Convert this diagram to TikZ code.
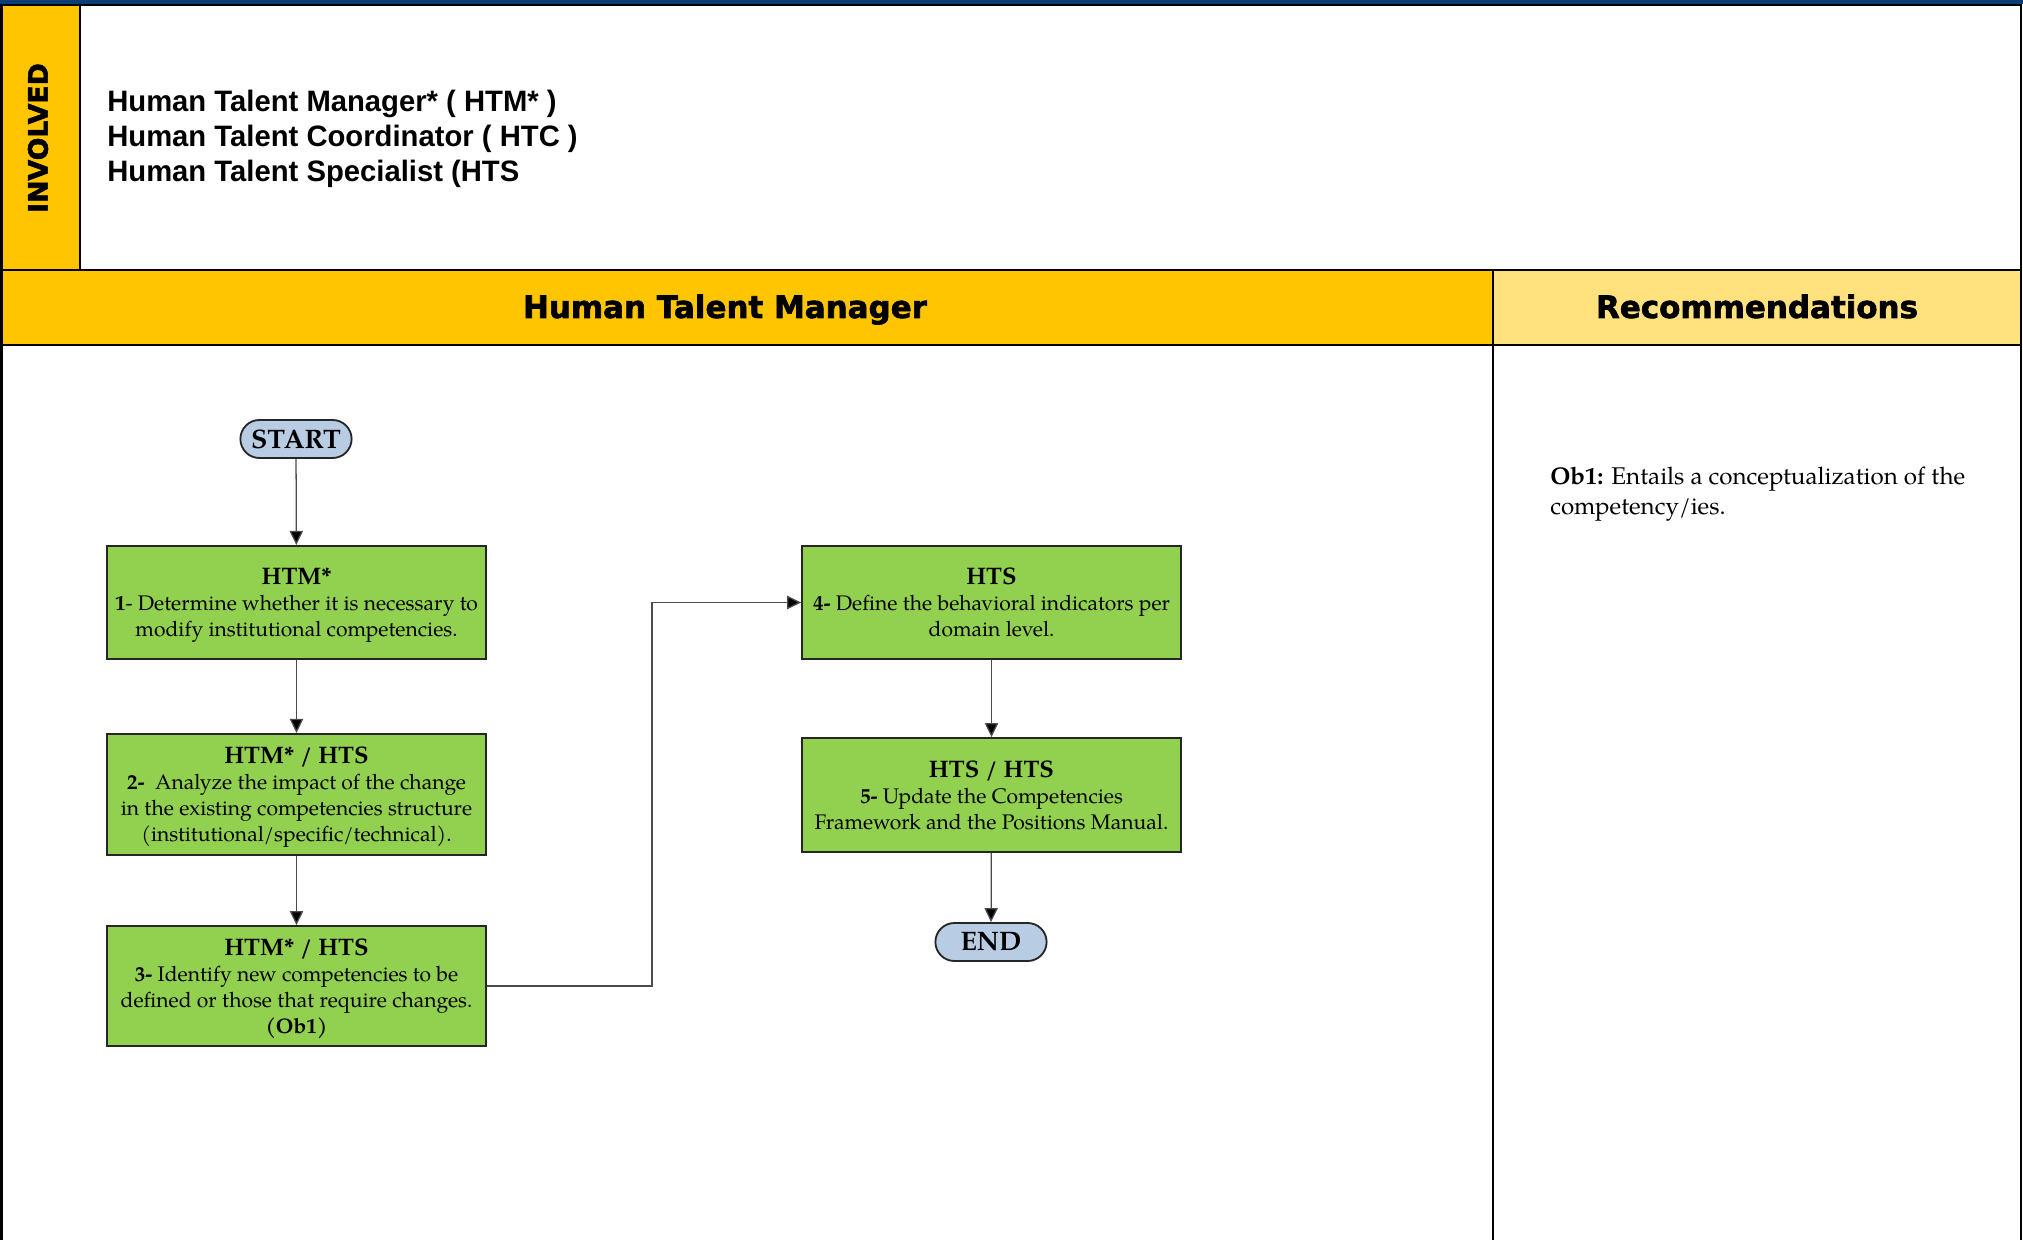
\documentclass[tikz,border=0pt]{standalone}
\usepackage{fontspec}
\usepackage{xcolor}
\usepackage{tikz}
\usetikzlibrary{arrows.meta,shapes.misc,positioning}
\setmainfont{TeX Gyre Pagella}
\newfontfamily\narrowfont{Liberation Sans Bold}[FakeStretch=0.99]
\newfontfamily\blackfont{DejaVu Sans Bold}[FakeBold=2]
\definecolor{barblue}{HTML}{0B3F73}
\definecolor{gold}{HTML}{FFC600}
\definecolor{paleGold}{HTML}{FFE17D}
\definecolor{stepgreen}{HTML}{92D050}
\definecolor{termblue}{HTML}{B8CCE4}
\tikzset{
  task/.style={draw=black!85, line width=1.3pt, fill=stepgreen, minimum width=9.47cm, align=center, inner sep=2pt, text depth=0pt, font=\fontsize{15}{18.5}\selectfont},
  term/.style={rounded rectangle, draw=black!85, line width=1.3pt, fill=termblue, minimum width=2.85cm, minimum height=0.95cm, inner sep=1pt, font=\fontsize{19}{20}\selectfont\bfseries},
  flow/.style={draw=black!70, line width=0.9pt, -{Triangle[length=10pt,width=9.5pt,fill=black]}},
  rule/.style={line width=1.6pt},
  lanehead/.style={anchor=base, font=\blackfont\fontsize{22}{23}\selectfont}
}
\newcommand\head[1]{{\fontsize{17}{19}\selectfont\bfseries #1}}

\begin{document}
\begin{tikzpicture}[x=0.025cm,y=-0.025cm]
\useasboundingbox (0,0) rectangle (2023,1240);
\fill[white] (0,0) rectangle (2023,1240);
\fill[barblue] (0,0) rectangle (2023,4);
\fill[gold] (1,5) rectangle (80,270);
\fill[gold] (1,270) rectangle (1493,345);
\fill[paleGold] (1493,270) rectangle (2021,345);
\draw[rule] (1.5,1240) -- (1.5,5) -- (2021,5) -- (2021,1240);
\draw[rule] (80,5) -- (80,270);
\draw[rule] (1.5,270) -- (2021,270);
\draw[rule] (1.5,345) -- (2021,345);
\draw[rule] (1493,270) -- (1493,1240);

\node[rotate=90, font=\blackfont\fontsize{19}{19}\selectfont] (involved) at (38,138) {INVOLVED};
\node[anchor=west, inner sep=0pt, align=left, font=\narrowfont\fontsize{21}{24.9}\selectfont] (roles) at (107,139) {Human Talent Manager* ( HTM* )\\Human Talent Coordinator ( HTC )\\Human Talent Specialist (HTS};
\node[lanehead] (manager) at (725,318) {Human Talent Manager};
\node[lanehead] (recs) at (1757,318) {Recommendations};

\node[term] (start) at (296,439) {START};
\node[task, minimum height=2.83cm] (s1) at (296.5,602.5) {\head{HTM*}\\\textbf{1}- Determine whether it is necessary to\\modify institutional competencies.};
\node[task, minimum height=3.03cm] (s2) at (296.5,794.5) {\head{HTM* / HTS}\\\textbf{2-}~ Analyze the impact of the change\\in the existing competencies structure\\(institutional/specific/technical).};
\node[task, minimum height=3cm] (s3) at (296.5,986) {\head{HTM* / HTS}\\\textbf{3-} Identify new competencies to be\\defined or those that require changes.\\\textbf{(Ob1)}};
\node[task, minimum height=2.83cm] (s4) at (991.5,602.5) {\head{HTS}\\\textbf{4-} Define the behavioral indicators per\\domain level.};
\node[task, minimum height=2.85cm] (s5) at (991.5,795) {\head{HTS / HTS}\\\textbf{5-} Update the Competencies\\Framework and the Positions Manual.};
\node[term] (end) at (991,942) {END};

\draw[flow] (start) -- (s1);
\draw[flow] (s1) -- (s2);
\draw[flow] (s2) -- (s3);
\draw[flow] (s3.east) -- ++(165,0) |- (s4.west);
\draw[flow] (s4) -- (s5);
\draw[flow] (s5) -- (end);

\node[anchor=north west, inner sep=0pt, align=left, font=\fontsize{17.2}{21}\selectfont] (ob1) at (1550,467) {\textbf{Ob1:} Entails a conceptualization of the\\competency/ies.};
\end{tikzpicture}
\end{document}
